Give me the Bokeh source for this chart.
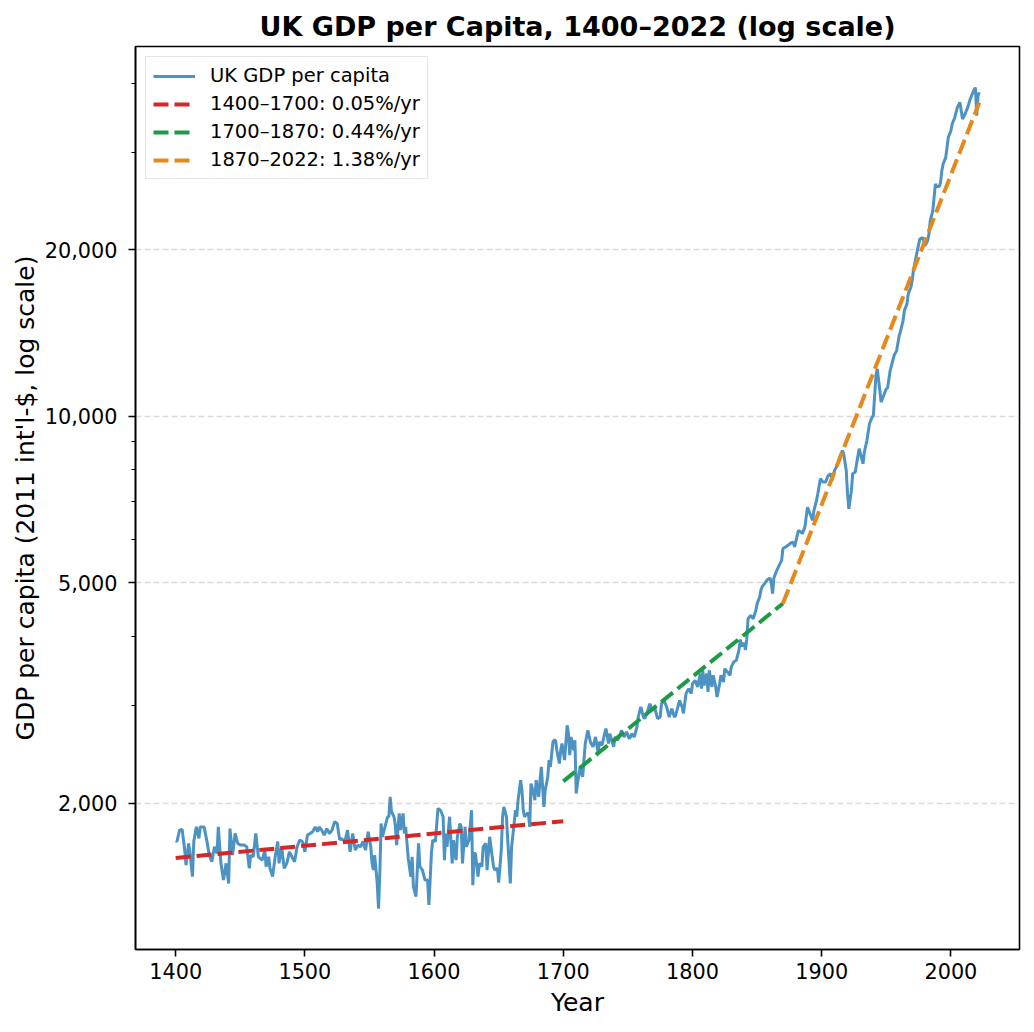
from bokeh.plotting import figure
from bokeh.models import FixedTicker, NumeralTickFormatter
from bokeh.embed import file_html
from bokeh.resources import INLINE

# UK GDP per capita (2011 int'l-$)
years = [
    1400, 1401, 1403, 1405, 1407, 1408, 1410, 1411, 1413, 1414, 1416, 1418, 1419, 1422, 1424, 1426,
    1428, 1430, 1432, 1433, 1435, 1437, 1439, 1441, 1442, 1444, 1446, 1448, 1450, 1453, 1455, 1457,
    1458, 1460, 1462, 1464, 1467, 1469, 1470, 1472, 1473, 1475, 1477, 1479, 1480, 1482, 1484, 1486,
    1488, 1490, 1492, 1494, 1496, 1498, 1499, 1500, 1502, 1504, 1506, 1508, 1510, 1511, 1513, 1515,
    1517, 1519, 1521, 1523, 1525, 1527, 1528, 1531, 1533, 1535, 1537, 1539, 1541, 1543, 1545, 1547,
    1549, 1551, 1552, 1553, 1554, 1556, 1557, 1558, 1559, 1560, 1562, 1564, 1565, 1566, 1567, 1569,
    1570, 1571, 1573, 1574, 1576, 1577, 1578, 1580, 1582, 1583, 1584, 1586, 1588, 1589, 1591, 1593,
    1595, 1596, 1598, 1599, 1601, 1603, 1605, 1607, 1608, 1609, 1610, 1612, 1614, 1615, 1617, 1618,
    1620, 1621, 1622, 1624, 1625, 1627, 1629, 1630, 1631, 1632, 1634, 1635, 1637, 1638, 1640, 1641,
    1643, 1645, 1646, 1647, 1649, 1650, 1652, 1653, 1654, 1656, 1657, 1659, 1660, 1663, 1664, 1665,
    1667, 1668, 1669, 1670, 1672, 1673, 1674, 1675, 1677, 1678, 1679, 1681, 1682, 1683, 1685, 1686,
    1688, 1689, 1690, 1692, 1693, 1694, 1695, 1697, 1698, 1699, 1701, 1703, 1704, 1705, 1706, 1708,
    1709, 1710, 1711, 1713, 1715, 1717, 1719, 1721, 1723, 1725, 1727, 1728, 1730, 1732, 1733, 1735,
    1736, 1739, 1740, 1742, 1744, 1745, 1747, 1749, 1751, 1752, 1753, 1755, 1757, 1758, 1760, 1762,
    1763, 1765, 1767, 1769, 1771, 1773, 1775, 1776, 1778, 1780, 1781, 1782, 1784, 1786, 1787, 1790,
    1792, 1793, 1795, 1797, 1799, 1800, 1802, 1804, 1806, 1807, 1808, 1809, 1811, 1812, 1813, 1815,
    1816, 1818, 1819, 1821, 1822, 1824, 1825, 1827, 1829, 1830, 1832, 1834, 1836, 1837, 1838, 1840,
    1841, 1842, 1843, 1845, 1847, 1849, 1850, 1852, 1853, 1854, 1856, 1858, 1860, 1861, 1862, 1863,
    1865, 1867, 1869, 1870, 1872, 1874, 1876, 1878, 1879, 1882, 1884, 1885, 1887, 1889, 1891, 1893,
    1894, 1896, 1897, 1899, 1901, 1903, 1905, 1907, 1908, 1910, 1912, 1914, 1916, 1917, 1919, 1920,
    1921, 1923, 1924, 1926, 1927, 1929, 1930, 1932, 1933, 1935, 1937, 1939, 1940, 1942, 1943, 1945,
    1946, 1948, 1950, 1951, 1953, 1955, 1956, 1958, 1960, 1961, 1963, 1964, 1966, 1967, 1969, 1970,
    1971, 1973, 1974, 1976, 1978, 1979, 1980, 1982, 1983, 1984, 1986, 1987, 1988, 1989, 1991, 1992,
    1993, 1994, 1996, 1997, 1998, 2000, 2001, 2003, 2005, 2007, 2009, 2011, 2013, 2015, 2017, 2019,
    2020, 2021, 2022,
]
gdp_per_capita = [
    1710, 1705, 1788, 1793, 1645, 1546, 1692, 1633, 1473, 1705, 1812, 1727, 1812, 1812, 1715, 1611,
    1567, 1668, 1622, 1812, 1557, 1452, 1557, 1432, 1799, 1611, 1763, 1692, 1680, 1680, 1668, 1525,
    1611, 1600, 1763, 1600, 1578, 1645, 1536, 1600, 1525, 1473, 1600, 1705, 1557, 1668, 1525, 1557,
    1633, 1600, 1567, 1668, 1715, 1705, 1680, 1633, 1751, 1763, 1776, 1812, 1776, 1812, 1788, 1751,
    1799, 1763, 1788, 1851, 1838, 1715, 1727, 1705, 1788, 1633, 1763, 1645, 1680, 1668, 1705, 1645,
    1776, 1668, 1557, 1514, 1611, 1432, 1290, 1493, 1838, 1739, 1812, 1890, 1890, 2053, 1930, 1890,
    1825, 1680, 1916, 1788, 1916, 1763, 1812, 1589, 1473, 1600, 1412, 1355, 1692, 1536, 1514, 1452,
    1452, 1309, 1633, 1715, 1705, 1955, 1942, 1890, 1578, 1763, 1668, 1890, 1557, 1715, 1578, 1739,
    1838, 1812, 1557, 1812, 1668, 1715, 1942, 1422, 1622, 1622, 1473, 1557, 1536, 1668, 1692, 1514,
    1739, 1600, 1536, 1514, 1525, 1437, 1645, 1890, 1969, 1890, 1715, 1432, 1668, 1942, 1890, 2025,
    2201, 2111, 1942, 1890, 1916, 1916, 1812, 2170, 2082, 2025, 2201, 2053, 2201, 2325, 1969, 2111,
    2232, 2392, 2325, 2580, 2599, 2599, 2493, 2358, 2493, 2563, 2392, 2765, 2670, 2442, 2634, 2493,
    2599, 2082, 2170, 2325, 2232, 2563, 2709, 2580, 2527, 2634, 2458, 2580, 2545, 2670, 2727, 2563,
    2670, 2527, 2634, 2599, 2653, 2709, 2634, 2690, 2616, 2634, 2670, 2634, 2746, 2862, 2984, 2862,
    2842, 2920, 3025, 2942, 2963, 2842, 2862, 3025, 3066, 2984, 2920, 2862, 2963, 2862, 2883, 3066,
    2984, 2905, 3154, 3220, 3154, 3287, 3333, 3243, 3428, 3220, 3475, 3265, 3428, 3176, 3475, 3243,
    3405, 3243, 3110, 3287, 3405, 3310, 3500, 3452, 3405, 3524, 3600, 3625, 3784, 3952, 3839, 3895,
    3784, 3952, 4307, 4369, 4307, 4452, 4582, 4716, 4853, 4924, 4995, 5067, 5103, 4995, 4783, 5103,
    5250, 5373, 5491, 5766, 5805, 5845, 5902, 5926, 5805, 6220, 6178, 6137, 6306, 6850, 6666, 6486,
    6758, 7046, 7246, 7712, 7604, 7604, 7818, 7874, 7656, 7984, 8151, 8437, 8674, 8556, 7984, 7246,
    6806, 7346, 7874, 7927, 8208, 8736, 8556, 8208, 8614, 9042, 9692, 9964, 10032, 11848, 12178, 11132,
    10604, 10904, 11210, 11250, 12094, 12608, 12874, 13140, 13990, 14230, 14890, 15520, 15960, 16636, 17100, 17580,
    18330, 19370, 19916, 20910, 21040, 20760, 20330, 20760, 21340, 22550, 23520, 24860, 26280, 26000, 26000, 26460,
    27770, 28560, 29360, 30600, 31900, 32800, 33730, 34660, 36140, 36900, 34430, 35160, 36140, 37420, 38460, 39260,
    34920, 37940, 38500,
]

# fitted trend segments (straight on a log axis)
trend_labels = ["1400–1700: 0.05%/yr", "1700–1870: 0.44%/yr", "1870–2022: 1.38%/yr"]
trend_years = [[1400, 1700], [1700, 1870], [1870, 2022]]
trend_values = [[1592, 1855], [2190, 4590], [4590, 36900]]
trend_colors = ["#d62728", "#1e9a45", "#e6891d"]

x_ticks = [1400, 1500, 1600, 1700, 1800, 1900, 2000]
y_ticks = [2000, 5000, 10000, 20000]
y_minor = [3000, 4000, 6000, 7000, 8000, 9000, 30000, 40000]

FONT = "DejaVu Sans"

p = figure(
    frame_width=884, frame_height=903,
    x_range=(1368.9, 2053.1), y_range=(1088, 46560),
    y_axis_type="log",
    output_backend="svg", toolbar_location=None,
    min_border_left=135, min_border_right=6,
    min_border_top=46, min_border_bottom=64,
    title="UK GDP per Capita, 1400–2022 (log scale)",
)
p.background_fill_color = "white"
p.border_fill_color = "white"
p.outline_line_color = "black"
p.outline_line_width = 1.6

p.title.text_font = FONT
p.title.text_font_size = "27px"
p.title.text_font_style = "bold"
p.title.text_color = "black"
p.title.align = "center"
p.title.standoff = 9

p.line(years, gdp_per_capita, line_color="#1f77b4", line_alpha=0.8, line_width=3,
       legend_label="UK GDP per capita")
for yrs, vals, col, lab in zip(trend_years, trend_values, trend_colors, trend_labels):
    p.line(yrs, vals, line_color=col, line_width=4, line_dash="15 6", legend_label=lab)

p.xaxis.ticker = FixedTicker(ticks=x_ticks, minor_ticks=[])
p.yaxis.ticker = FixedTicker(ticks=y_ticks, minor_ticks=y_minor)
p.yaxis.formatter = NumeralTickFormatter(format="0,0")

for ax in (p.xaxis, p.yaxis):
    ax.axis_line_color = "black"
    ax.axis_line_width = 1.6
    ax.major_tick_line_color = "black"
    ax.major_tick_line_width = 1.6
    ax.major_tick_out = 7
    ax.major_tick_in = 0
    ax.minor_tick_line_color = "black"
    ax.minor_tick_line_width = 1.2
    ax.minor_tick_out = 4
    ax.minor_tick_in = 0
    ax.major_label_text_font = FONT
    ax.major_label_text_font_size = "20.8px"
    ax.major_label_text_color = "black"
    ax.axis_label_text_font = FONT
    ax.axis_label_text_font_size = "25px"
    ax.axis_label_text_font_style = "normal"
    ax.axis_label_text_color = "black"

p.xaxis.axis_label = "Year"
p.yaxis.axis_label = "GDP per capita (2011 int'l-$, log scale)"
p.xaxis.major_label_standoff = 6
p.yaxis.major_label_standoff = 11
p.xaxis.axis_label_standoff = 6
p.yaxis.axis_label_standoff = 2

p.xgrid.grid_line_color = None
p.ygrid.grid_line_color = "#b0b0b0"
p.ygrid.grid_line_alpha = 0.45
p.ygrid.grid_line_dash = "6 3"
p.ygrid.grid_line_width = 1.5

p.legend.location = "top_left"
p.legend.margin = 10
p.legend.padding = 7
p.legend.spacing = 5
p.legend.glyph_width = 42
p.legend.glyph_height = 20
p.legend.label_height = 20
p.legend.label_standoff = 15
p.legend.label_text_font = FONT
p.legend.label_text_font_size = "19.5px"
p.legend.label_text_color = "black"
p.legend.background_fill_color = "white"
p.legend.background_fill_alpha = 0.8
p.legend.border_line_color = "#cccccc"
p.legend.border_line_width = 1.5

open("out.html", "w").write(file_html(p, INLINE))
